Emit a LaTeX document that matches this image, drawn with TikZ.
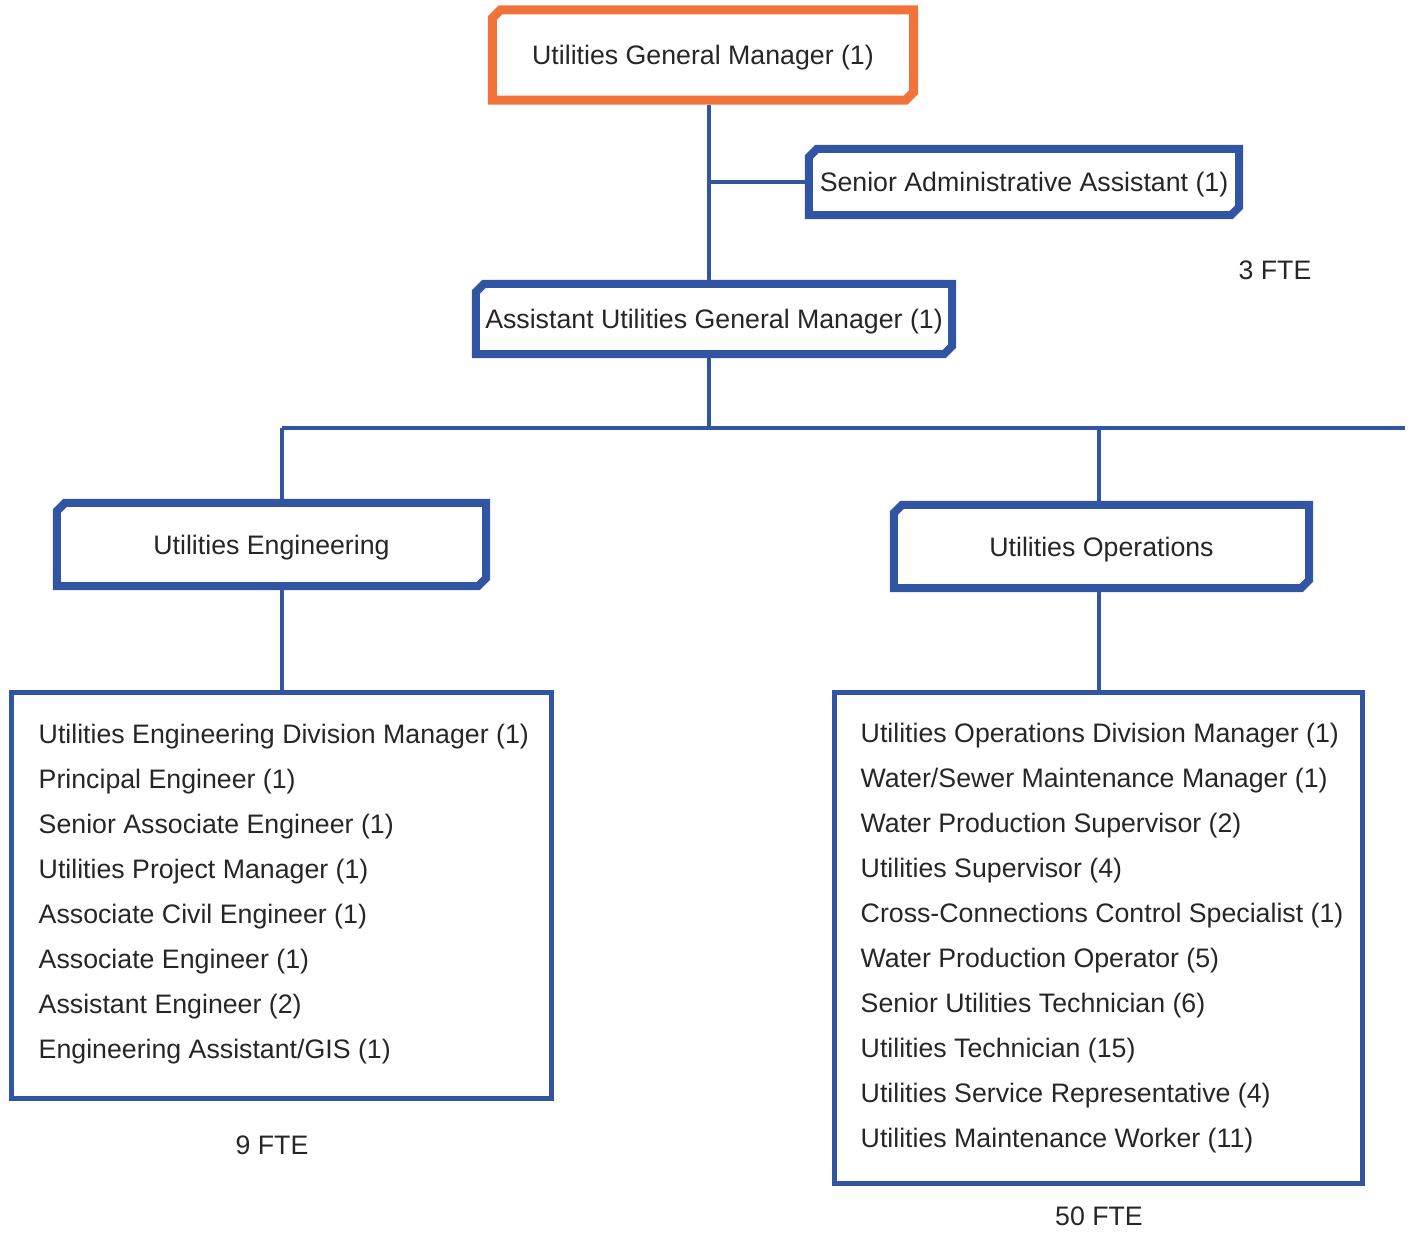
\documentclass[tikz,border=0pt]{standalone}
\usepackage{fontspec}
\setmainfont{Liberation Sans}
\usetikzlibrary{shapes.misc}
\definecolor{orgblue}{HTML}{3155A3}
\definecolor{orgorange}{HTML}{F2733A}
\definecolor{inkgray}{HTML}{262626}

\begin{document}
\begin{tikzpicture}[x=0.01cm, y=-0.01cm,
  every node/.style={text=inkgray, inner sep=0pt,
    font=\fontsize{7.6pt}{12.8pt}\selectfont},
  cutbox/.style={chamfered rectangle,
    chamfered rectangle corners={north west,south east},
    chamfered rectangle xsep=0.04cm, chamfered rectangle ysep=0.04cm,
    text depth=0pt,
    fill=white, draw=orgblue, line width=0.08cm},
  topbox/.style={cutbox, draw=orgorange, line width=0.09cm},
  listbox/.style={rectangle, draw=orgblue, line width=0.05cm},
  conn/.style={draw=orgblue, line width=0.04cm},
  fte/.style={font=\fontsize{7.6pt}{9pt}\selectfont}
]
\useasboundingbox (0,0) rectangle (1411,1232);

% boxes
\node[topbox, minimum width=4.21cm, minimum height=0.90cm] (gm) at (703,55)
  {Utilities General Manager (1)};
\node[cutbox, minimum width=4.30cm, minimum height=0.66cm] (saa) at (1024,182)
  {Senior Administrative Assistant (1)};
\node[cutbox, minimum width=4.76cm, minimum height=0.70cm] (agm) at (714,319)
  {Assistant Utilities General Manager (1)};
\node[cutbox, minimum width=4.29cm, minimum height=0.83cm] (ue) at (271.5,544.5)
  {Utilities Engineering};
\node[cutbox, minimum width=4.15cm, minimum height=0.83cm] (uo) at (1101.5,546.5)
  {Utilities Operations};
\node[listbox, minimum width=5.40cm, minimum height=4.06cm] (el) at (281.5,895.5) {};
\node[listbox, minimum width=5.28cm, minimum height=4.91cm] (ol) at (1098.5,938) {};

% position lists
\node[anchor=west, align=left] (engroles) at (38,894.5)
  {Utilities Engineering Division Manager (1)\\
   Principal Engineer (1)\\
   Senior Associate Engineer (1)\\
   Utilities Project Manager (1)\\
   Associate Civil Engineer (1)\\
   Associate Engineer (1)\\
   Assistant Engineer (2)\\
   Engineering Assistant/GIS (1)};
\node[anchor=west, align=left] (opsroles) at (860,938.5)
  {Utilities Operations Division Manager (1)\\
   Water/Sewer Maintenance Manager (1)\\
   Water Production Supervisor (2)\\
   Utilities Supervisor (4)\\
   Cross-Connections Control Specialist (1)\\
   Water Production Operator (5)\\
   Senior Utilities Technician (6)\\
   Utilities Technician (15)\\
   Utilities Service Representative (4)\\
   Utilities Maintenance Worker (11)};

% staffing totals
\node[fte] (fte3) at (1275,270) {3 FTE};
\node[fte] (fte9) at (272,1145) {9 FTE};
\node[fte] (fte50) at (1099,1216) {50 FTE};

% reporting lines
\coordinate (spine) at (709,0);
\coordinate (bus) at (0,428);
\coordinate (busend) at (1405,428);
\draw[conn] (gm.south -| spine) -- (agm.north -| spine);
\draw[conn] (spine |- saa.west) -- (saa.west);
\draw[conn] (agm.south -| spine) -- (spine |- bus);
\draw[conn] (bus -| el.north) -- (busend);
\draw[conn] (bus -| el.north) -- (ue.north -| el.north);
\draw[conn] (ue.south -| el.north) -- (el.north);
\draw[conn] (bus -| ol.north) -- (uo.north -| ol.north);
\draw[conn] (uo.south -| ol.north) -- (ol.north);
\end{tikzpicture}
\end{document}
